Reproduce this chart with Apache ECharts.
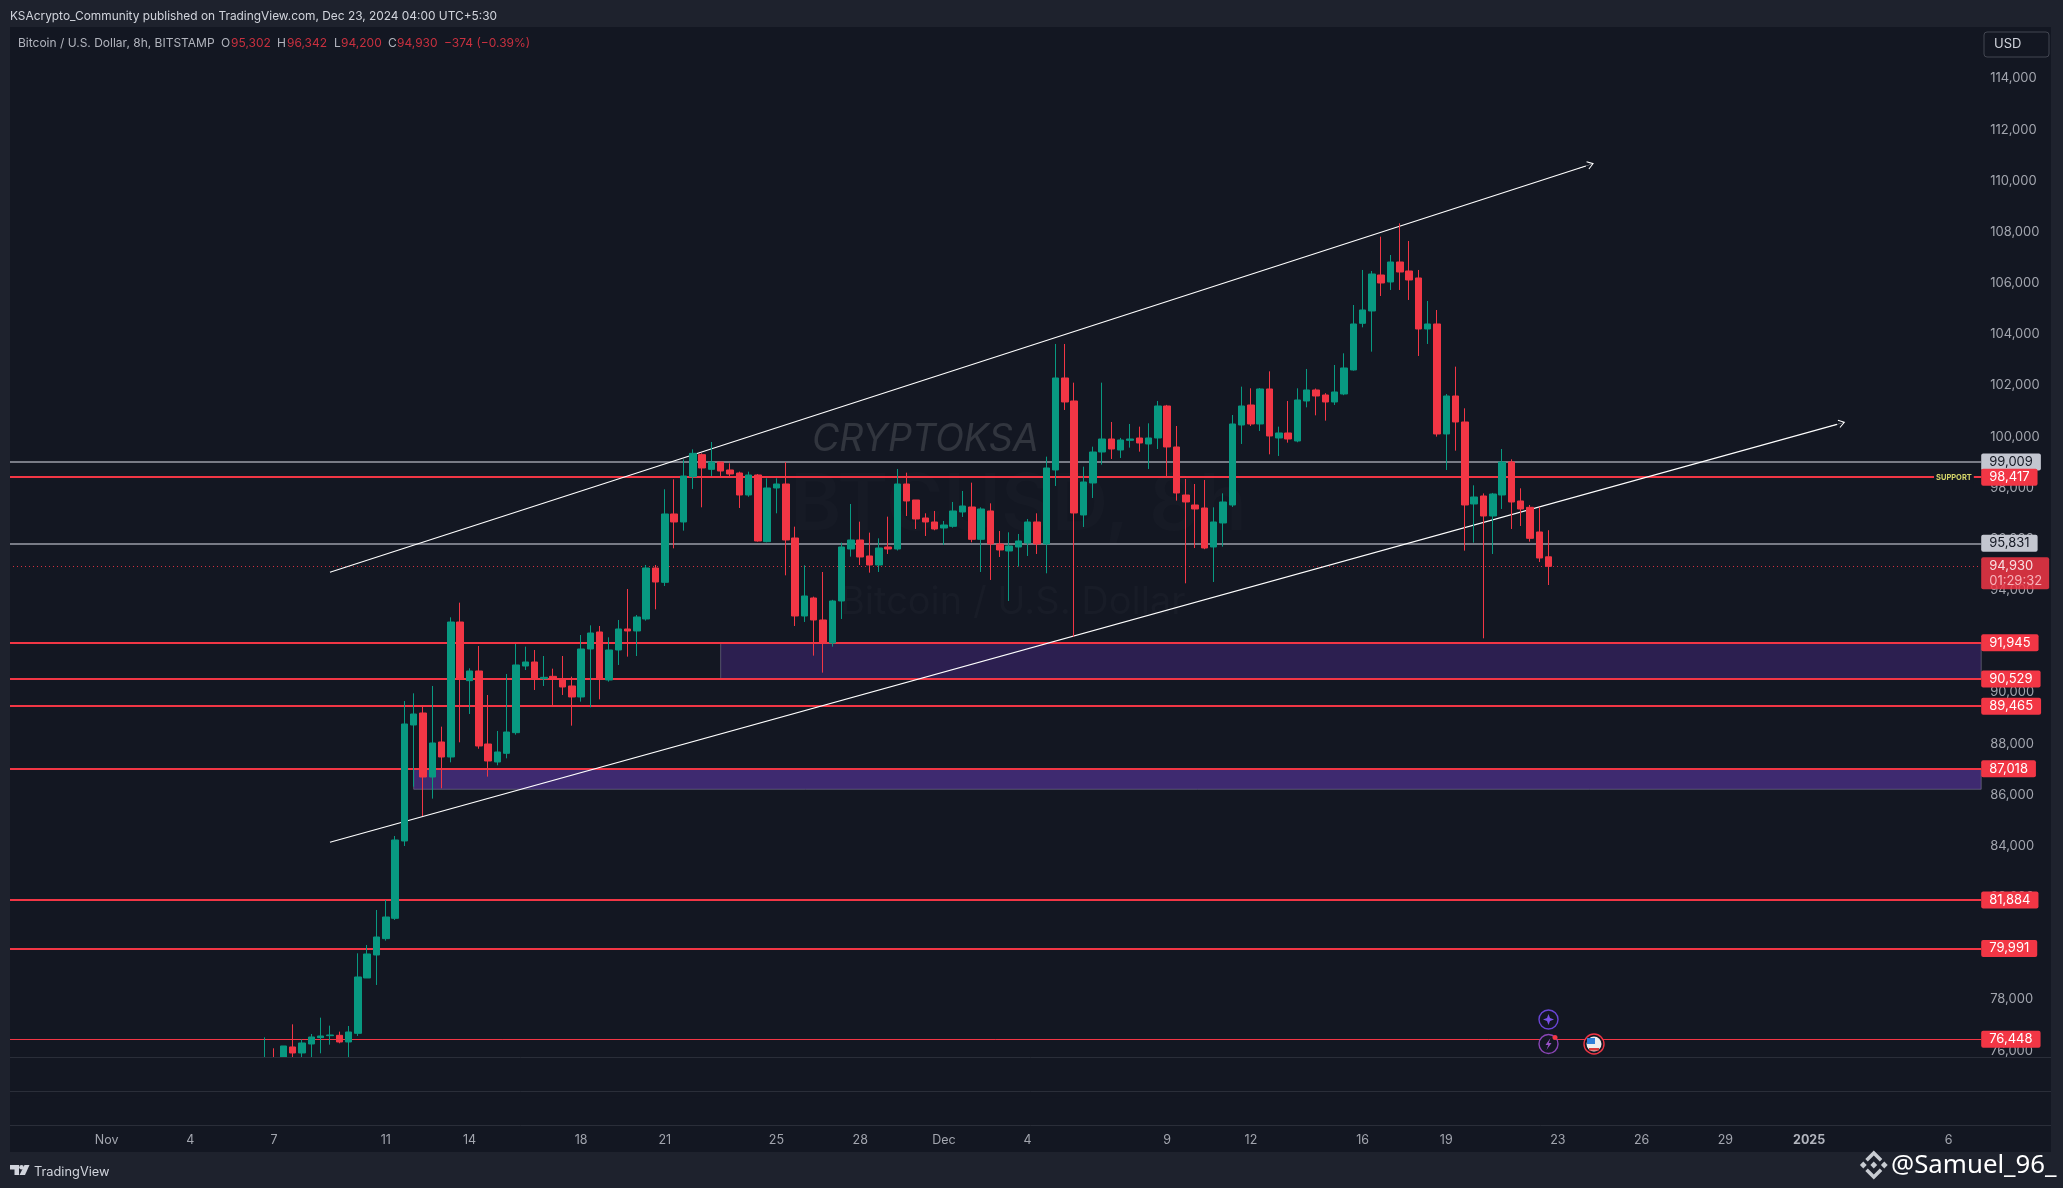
<!DOCTYPE html>
<html><head><meta charset="utf-8">
<style>html,body{margin:0;padding:0;background:#1e222d}#c{width:2063px;height:1188px}</style>
<script src="https://cdn.jsdelivr.net/npm/echarts@6/dist/echarts.min.js"></script>
</head><body><div id="c"></div>
<script>
const firstIndex = 27;
const slotCount = 212;
const opens = [75400,75700,75700,76142,75907,76258,76506,76584,76597,76337,76675,78838,79737,80376,81171,84194,88728,89197,86695,88064,87477,92754,90461,90839,87985,87282,87621,88428,91034,91191,90539,90630,90539,90253,89823,91699,92364,90487,91660,92481,92403,92872,94865,94305,96977,96664,98436,99296,98722,99009,98697,98579,97719,98501,95895,97993,98149,96038,92989,93693,92833,91934,93576,95608,95960,95335,94983,95687,95608,98149,97524,96820,96664,96429,96495,97055,97250,95986,97094,95804,95530,95687,95843,96664,95804,98697,102293,101394,96938,98188,99400,99908,99478,99856,99947,99713,99947,101198,99596,97719,97328,97211,95686,96625,97328,100456,101237,100495,101863,99947,100143,99830,101394,101824,101628,101355,101667,102606,104430,104912,106319,106046,106827,106475,106202,104208,104404,100104,101589,100573,97367,97680,96898,97719,99009,97485,97237,96273,95302];
const closes = [75700,75500,76181,75907,76298,76532,76571,76610,76337,76727,78878,79777,80441,81223,84233,88767,89158,86695,88025,87477,92754,90526,90839,87907,87321,87673,88454,91074,91191,90513,90591,90539,90214,89823,91699,92324,90513,91660,92481,92403,92950,94865,94318,96977,96664,98462,99348,98775,99009,98657,98540,97719,98501,95921,97993,98149,95960,92989,93771,92833,91934,93576,95687,95960,95296,94983,95647,95608,98149,97485,96781,96664,96390,96547,97094,97289,95986,97172,95804,95569,95726,95921,96664,95804,98775,102293,101355,97016,98227,99400,99908,99517,99869,99908,99752,99947,101198,99596,97797,97446,97172,95647,96664,97446,100495,101198,100495,101863,100026,100143,99908,101433,101824,101589,101355,101746,102684,104404,104951,106358,106006,106827,106436,106124,104208,104404,100104,101589,100573,97328,97641,96898,97758,99009,97446,97172,96025,95256,94930];
const lows = [75300,75300,75600,75650,75700,75700,75894,76232,76285,75700,76571,78838,78565,80298,81106,83998,86317,85171,85849,86252,87269,88051,89158,87800,86708,87152,87425,88350,90878,90096,90252,89471,89901,88702,89640,89419,89731,90422,91074,91399,91425,92806,93250,94162,95634,96325,97954,97237,98462,98462,98436,97211,97650,95895,95869,97003,94579,92598,92755,91439,90774,91790,92872,95309,94983,94683,94709,95413,95550,96898,96390,96116,96340,95765,96440,96859,95869,94709,94397,95296,93576,94918,95335,95413,94657,98071,101042,92181,96468,97602,98905,99126,99166,99570,99413,98736,99517,98462,97498,94266,95647,95600,94318,95700,97250,99713,100416,100221,99309,99244,99765,99780,101146,100833,100625,101237,101620,102580,104273,103322,105498,105733,105733,105342,103153,103622,100000,98696,99452,95543,95856,92116,95413,97172,96390,96507,95895,95100,94200];
const highs = [76519,76090,76181,77027,76441,76649,77288,76975,76741,76962,79803,80128,81496,81887,84389,89666,89966,89445,90253,88663,92937,93510,90943,91816,89901,88494,90722,91894,91790,91660,91425,90930,91425,90618,92246,92624,92598,92155,92833,94044,93028,94983,94983,97941,98332,99113,99504,99348,99791,99009,98957,98631,98631,98540,98371,98371,99009,96481,94970,93745,94709,93620,95856,97367,96677,96247,96025,96872,98736,98592,97524,97003,97094,96703,97446,97876,98201,97237,97393,96312,96260,96195,96781,97003,99218,103622,103622,102110,98827,99609,102110,100573,99950,100495,100390,100521,101394,101240,100416,98345,98149,98306,97237,97784,100846,101954,101889,101900,102553,100390,101394,101889,102645,101880,101700,102801,103257,105146,106515,106475,107818,107101,108339,107648,106515,105303,104951,101667,102736,101107,98097,97780,97800,99517,99113,97980,97328,97237,96342];

const priceTicks = [114000,112000,110000,108000,106000,104000,102000,100000,98000,96000,94000,92000,90000,88000,86000,84000,82000,80000,78000,76000];
const redLevels = [98417,91945,90529,89465,87018,81884,79991];
const grayLevels = [99009,95831];
const thinLevel = 76448;
const lastPrice = 94930;
const countdown = '01:29:32';
const timeTickIndex = [10,19,28,40,49,61,70,82,91,100,109,124,133,145,154,166,175,184,193,208];
const timeTickLabels = ['Nov','4','7','11','14','18','21','25','28','Dec','4','9','12','16','19','23','26','29','2025','6'];
const zoneLeft = [76,43];
const zoneTop = [91945,87018];
const zoneBottom = [90529,86215];
const channelTop = [[34,94697],[169,110580]];
const channelBottom = [[34,84143],[196,100479]];
const legendValues = ['95,302','96,342','94,200','94,930','−374 (−0.39%)'];

const RED='#f23645', GREEN='#089981', GRAY='#787b86', BG='#131722', FRAME='#1e222d', FONT='Inter, "Noto Sans", sans-serif';
const ZONE=['#2c1f50','#3e2a70'];
const fmt = v => v.toLocaleString('en-US');

const cats = Array.from({length:slotCount},(_,i)=>{const k=timeTickIndex.indexOf(i);return k>=0?timeTickLabels[k]:'';});
const candleData = opens.map((o,i)=>[o,closes[i],lows[i],highs[i]]);
const seriesData = Array.from({length:slotCount},(_,i)=>{
  const k=i-firstIndex; return (k>=0&&k<candleData.length)?candleData[k]:'-';});

function levelLine(v,color,boxColor,textColor,width){
  return {yAxis:v,symbol:'none',
    lineStyle:{color:color,width:width,type:'solid',opacity:1},
    label:{show:true,position:'end',distance:0,formatter:fmt(v),color:textColor,backgroundColor:boxColor,
      fontFamily:FONT,fontSize:13,lineHeight:15,padding:[1,8,1,8],borderRadius:2,align:'left'}};
}
const markLines = [
  ...grayLevels.map(v=>levelLine(v,GRAY,'#c3c6d0','#131722',2)),
  ...redLevels.map(v=>levelLine(v,RED,RED,'#ffffff',2)),
  levelLine(thinLevel,RED,RED,'#ffffff',1),
  {yAxis:lastPrice,symbol:'none',lineStyle:{color:RED,width:1,type:[1,3],opacity:.85},
   label:{show:true,position:'end',distance:0,offset:[0,7],align:'left',formatter:'{a|'+fmt(lastPrice)+'}\n{b|'+countdown+'}',backgroundColor:RED,
     padding:[1,7,1,8],borderRadius:2,
     rich:{a:{color:'#fff',fontFamily:FONT,fontSize:13,lineHeight:15},b:{color:'#ffc9cf',fontFamily:FONT,fontSize:13,lineHeight:15}}}},
];
// chevron head at the tip, a stem hidden on the shaft, tiny corner specks keep the path square
const arrow='path://M-4.2,6.2 L0,0 L4.2,6.2 L3.4,6.8 L0,1.8 L-3.4,6.8 Z M-0.2,1 L0.2,1 L0.2,17 L-0.2,17 Z M-8.5,17 L-8.45,17 L-8.5,16.95 Z M8.5,17 L8.45,17 L8.5,16.95 Z';
const trend=(p)=>[
  {coord:p[0],symbol:'none',lineStyle:{color:'#fff',width:1.2,type:'solid',opacity:1},label:{show:false}},
  {coord:p[1],symbol:arrow,symbolSize:17,lineStyle:{color:'#fff',width:1.2,type:'solid',opacity:1},label:{show:false}}];
markLines.push(trend(channelTop),trend(channelBottom));

const T=(x,y,text,o)=>({type:'text',x,y,z:(o&&o.z)||50,silent:true,style:Object.assign({text,fill:'#d1d4dc',font:'12px '+FONT,textVerticalAlign:'middle'},o||{})});
const line=(x1,y1,x2,y2,c)=>({type:'line',z:45,silent:true,shape:{x1,y1,x2,y2},style:{stroke:c||'#2a2e39',lineWidth:1}});
const poly=(pts,fill,z)=>({type:'polygon',z:z||60,silent:true,shape:{points:pts},style:{fill}});
const dmd=(cx,cy,r,c)=>poly([[cx,cy-r],[cx+r,cy],[cx,cy+r],[cx-r,cy]],c);
const LC='#c8ccd2', bx=1873.8, by=1165;

const graphic=[
  {type:'rect',z:-10,silent:true,shape:{x:10,y:27,width:2041,height:1125},style:{fill:BG}},
  {type:'rect',z:40,silent:true,shape:{x:10,y:1057.5,width:1975,height:40},style:{fill:BG}},
  {type:'rect',z:45,silent:true,shape:{x:0,y:27,width:10,height:1125},style:{fill:FRAME}},
  line(10,1057.5,2051,1057.5),line(10,1091.5,2051,1091.5),line(10,1125.5,2051,1125.5),
  T(10,16,'KSAcrypto_Community published on TradingView.com, Dec 23, 2024 04:00 UTC+5:30',{font:'11.9px '+FONT}),
  T(18,43,'Bitcoin / U.S. Dollar, 8h, BITSTAMP',{fill:'#b2b5be'}),
  T(221,43,'O',{fill:'#b2b5be'}),T(231,43,legendValues[0],{fill:'#c8303f'}),
  T(277,43,'H',{fill:'#b2b5be'}),T(287,43,legendValues[1],{fill:'#c8303f'}),
  T(334,43,'L',{fill:'#b2b5be'}),T(341,43,legendValues[2],{fill:'#c8303f'}),
  T(388,43,'C',{fill:'#b2b5be'}),T(397,43,legendValues[3],{fill:'#c8303f'}),
  T(444,43,legendValues[4],{fill:'#c8303f'}),
  {type:'rect',z:50,silent:true,shape:{x:1984,y:32,width:65,height:25,r:3},style:{fill:BG,stroke:'#434651',lineWidth:1}},
  T(1994,44.5,'USD',{font:'13px '+FONT}),
  T(812,440,'CRYPTOKSA',{z:-4,fill:'rgba(255,255,255,.13)',font:'italic 37.5px '+FONT}),
  T(790,507,'BTCUSD, 8h',{z:-4,fill:'rgba(255,255,255,.016)',font:'600 78px '+FONT}),
  T(840,603,'Bitcoin / U.S. Dollar',{z:-4,fill:'rgba(255,255,255,.025)',font:'38px '+FONT}),
  T(1934,478,'SUPPORT',{z:55,fill:'#d6d66a',font:'bold 7.5px '+FONT,backgroundColor:BG,padding:[2,2,2,2]}),
  {type:'circle',z:60,silent:true,shape:{cx:1548.5,cy:1019.5,r:9.5},style:{fill:BG,stroke:'#6a45d6',lineWidth:1.4}},
  poly([[1548.5,1014],[1550,1018],[1554,1019.5],[1550,1021],[1548.5,1025],[1547,1021],[1543,1019.5],[1547,1018]],'#7a52e8'),
  {type:'circle',z:60,silent:true,shape:{cx:1548.5,cy:1044,r:9.5},style:{fill:BG,stroke:'#8a45b6',lineWidth:1.4}},
  poly([[1550.5,1038],[1545.5,1045],[1548.3,1045],[1546.5,1050],[1551.5,1043],[1548.7,1043]],'#9a52c8'),
  {type:'circle',z:61,silent:true,shape:{cx:1555,cy:1037.5,r:2.5},style:{fill:RED}},
  {type:'circle',z:60,silent:true,shape:{cx:1594,cy:1044,r:10},style:{fill:BG,stroke:RED,lineWidth:1.4}},
  {type:'circle',z:60,silent:true,shape:{cx:1594,cy:1044,r:7.5},style:{fill:'#eeeeee'}},
  {type:'rect',z:61,silent:true,shape:{x:1587,y:1038,width:8,height:6},style:{fill:'#2f7fd8'}},
  {type:'rect',z:61,silent:true,shape:{x:1589,y:1048,width:10,height:2.6},style:{fill:'#d83c3c'}},
  poly([[10,1165],[19,1165],[19,1175],[14.5,1175],[14.5,1169.5],[10,1169.5]],'#d1d4dc'),
  {type:'circle',z:60,silent:true,shape:{cx:21.5,cy:1167.3,r:2.3},style:{fill:'#d1d4dc'}},
  poly([[24.5,1165],[29.5,1165],[25,1175],[19.5,1175]],'#d1d4dc'),
  T(34,1172,'TradingView',{font:'12.8px '+FONT,fill:'#d1d4dc'}),
  dmd(bx,by,3.4,LC),dmd(bx-10.5,by,3.4,LC),dmd(bx+10.5,by,3.4,LC),
  poly([[bx,by-14.5],[bx+8.5,by-6],[bx+6,by-3.5],[bx,by-9.5],[bx-6,by-3.5],[bx-8.5,by-6]],LC),
  poly([[bx,by+14.5],[bx+8.5,by+6],[bx+6,by+3.5],[bx,by+9.5],[bx-6,by+3.5],[bx-8.5,by+6]],LC),
  T(1891,1166,'@Samuel_96_',{fill:'#ffffff',font:'25.8px "Noto Sans", sans-serif'}),
];

const chart=echarts.init(document.getElementById('c'),null,{renderer:'canvas'});
chart.setOption({
  animation:false,backgroundColor:FRAME,
  graphic:{elements:graphic},
  grid:{left:9,top:28,width:1972.2,height:1029.3,containLabel:false},
  xAxis:{type:'category',data:cats,boundaryGap:true,
    axisLine:{show:false},axisTick:{show:false},splitLine:{show:false},
    axisLabel:{interval:(i)=>cats[i]!=='',margin:76,color:'#a3a6af',fontFamily:FONT,fontSize:12.5,
      formatter:(v)=>v==='2025'?'{b|2025}':v,rich:{b:{fontWeight:'bold',color:'#b2b5be',fontFamily:FONT,fontSize:12.5}}}},
  yAxis:{type:'value',position:'right',min:75738,max:115974,
    axisLine:{show:false},axisTick:{show:false},splitLine:{show:false},
    axisLabel:{customValues:priceTicks,margin:9,color:'#a3a6af',fontFamily:FONT,fontSize:13,formatter:(v)=>fmt(v)}},
  series:[
   {type:'custom',z:0,silent:true,clip:false,encode:{x:0,y:[1,2]},
    data:zoneLeft.map((l,i)=>[l,zoneTop[i],zoneBottom[i],i]),
    renderItem:(params,api)=>{
      const a=api.coord([api.value(0),api.value(1)]), b=api.coord([api.value(0),api.value(2)]);
      const cs=params.coordSys, right=cs.x+cs.width;
      return {type:'rect',shape:{x:a[0],y:a[1],width:right-a[0],height:b[1]-a[1]},
        style:{fill:ZONE[api.value(3)],stroke:'rgba(130,130,150,.55)',lineWidth:1}};
    }},
   {type:'candlestick',data:seriesData,barWidth:7,clip:true,z:2,
    itemStyle:{color:GREEN,color0:RED,borderColor:GREEN,borderColor0:RED,borderWidth:1},
    markLine:{silent:true,z:1,animation:false,symbol:['none','none'],data:markLines}
   }]
});
</script></body></html>
